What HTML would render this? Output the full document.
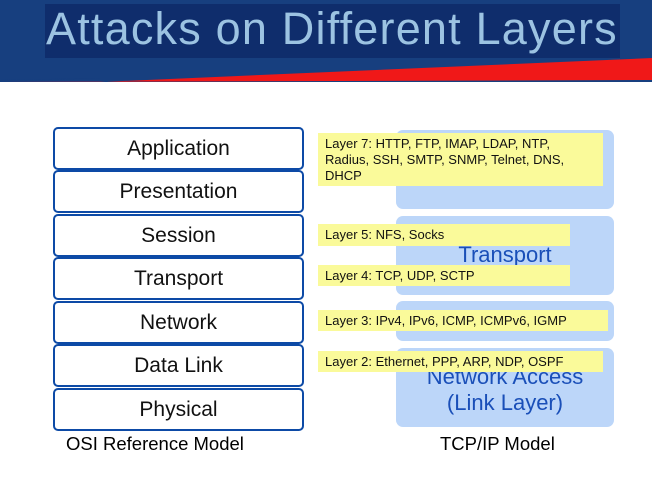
<!DOCTYPE html>
<html><head><style>
body{margin:0;width:652px;height:485px;position:relative;background:#fff;overflow:hidden;font-family:"Liberation Sans",sans-serif}
.a{position:absolute}
.osi{position:absolute;left:53px;width:247px;height:39px;border:2px solid #0d4aa6;border-radius:5px;background:#fff;text-align:center;line-height:39px;font-size:21px;color:#111}
.bl{position:absolute;left:396px;width:218px;background:#bcd6f9;border-radius:7px}
.y{position:absolute;left:318px;background:#fafa9a;font-size:13px;color:#111;line-height:16px;padding:3px 0 0 7px;box-sizing:border-box;white-space:nowrap;overflow:hidden}
</style></head><body>
<div class="a" style="left:0;top:0;width:652px;height:82px;background:#173f7f"></div>
<svg class="a" style="left:0;top:0" width="652" height="90"><polygon points="100,82 652,58 652,80 0,82" fill="#f01818"/><polygon points="0,80 100,78 0,82" fill="#173f7f"/></svg>
<div class="a" style="left:45px;top:4px;width:575px;height:54px;background:#0f2d6c"></div>
<div class="a" style="left:46px;top:0px;font-size:45px;color:#9cc3e2;line-height:58px;letter-spacing:1.2px;white-space:nowrap">Attacks on Different Layers</div>
<div class="osi" style="top:127px">Application</div>
<div class="osi" style="top:170px">Presentation</div>
<div class="osi" style="top:214px">Session</div>
<div class="osi" style="top:257px">Transport</div>
<div class="osi" style="top:301px">Network</div>
<div class="osi" style="top:344px">Data Link</div>
<div class="osi" style="top:388px">Physical</div>
<div class="a" style="left:66px;top:433px;font-size:18.5px;color:#000">OSI Reference Model</div>
<div class="a" style="left:440px;top:433px;font-size:18.5px;color:#000">TCP/IP Model</div>
<div class="bl" style="top:130px;height:79px"></div>
<div class="bl" style="top:216px;height:79px"></div>
<div class="bl" style="top:301px;height:40px"></div>
<div class="bl" style="top:348px;height:79px"></div>
<div class="a" style="left:396px;top:242px;width:218px;text-align:center;font-size:22px;color:#1a4fb8">Transport</div>
<div class="a" style="left:396px;top:364px;width:218px;text-align:center;font-size:22px;color:#1a4fb8;line-height:26px">Network Access<br>(Link Layer)</div>
<div class="y" style="top:133px;width:285px;height:53px">Layer 7: HTTP, FTP, IMAP, LDAP, NTP,<br>Radius, SSH, SMTP, SNMP, Telnet, DNS,<br>DHCP</div>
<div class="y" style="top:224px;width:252px;height:22px">Layer 5: NFS, Socks</div>
<div class="y" style="top:265px;width:252px;height:21px">Layer 4: TCP, UDP, SCTP</div>
<div class="y" style="top:310px;width:290px;height:21px">Layer 3: IPv4, IPv6, ICMP, ICMPv6, IGMP</div>
<div class="y" style="top:351px;width:285px;height:21px">Layer 2: Ethernet, PPP, ARP, NDP, OSPF</div>
</body></html>
